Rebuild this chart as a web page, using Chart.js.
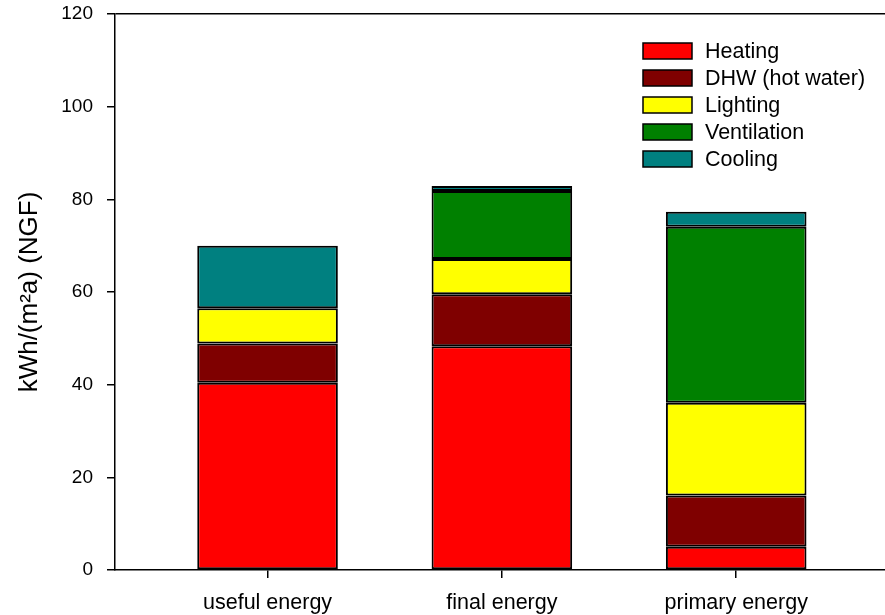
<!DOCTYPE html>
<html>
<head>
    <meta charset="utf-8">
    <script src="https://cdn.jsdelivr.net/npm/chart.js"></script>
    <style>
        body { margin: 0; background: #fff; }
        #wrap { width: 885px; height: 615px; }
    </style>
</head>
<body>
<div id="wrap"><canvas id="energyChart"></canvas></div>
<script>
// categories and their positions on the x axis
const categories = ['useful energy', 'final energy', 'primary energy']
const xPos = [1, 2, 3]

// stacked values, kWh/(m²a)
const heating = [40.4, 48.3, 5.0]
const dhw = [8.5, 11.2, 11.1]
const lighting = [7.6, 7.6, 20.0]
const ventilation = [null, 14.7, 38.0]
const cooling = [13.5, 1.1, 3.2]

const yTicks = [0, 20, 40, 60, 80, 100, 120]

const font = 'Arial, "Liberation Sans", sans-serif'

function pts(arr) {
    return arr.map((v, i) => ({ x: xPos[i], y: v }))
}

function ds(label, values, color) {
    return {
        label: label,
        data: pts(values),
        backgroundColor: color,
        borderColor: '#000',
        borderWidth: 2,
        borderSkipped: false,
        barPercentage: 0.6,
        categoryPercentage: 1
    }
}

// legend drawn inside the plot, top right
const insideLegend = {
    id: 'insideLegend',
    afterDraw(chart) {
        const ctx = chart.ctx
        ctx.save()
        ctx.font = '21.5px ' + font
        ctx.textBaseline = 'middle'
        chart.data.datasets.forEach((d, i) => {
            const y = 51 + i * 27
            ctx.fillStyle = d.backgroundColor
            ctx.fillRect(643, y - 8, 49, 16)
            ctx.strokeStyle = '#000'
            ctx.lineWidth = 1.5
            ctx.strokeRect(643, y - 8, 49, 16)
            ctx.fillStyle = '#000'
            ctx.fillText(d.label, 705, y + 1)
        })
        ctx.restore()
    }
}

new Chart(document.getElementById('energyChart'), {
    type: 'bar',
    data: {
        datasets: [
            ds('Heating', heating, '#ff0000'),
            ds('DHW (hot water)', dhw, '#7f0000'),
            ds('Lighting', lighting, '#ffff00'),
            ds('Ventilation', ventilation, '#008000'),
            ds('Cooling', cooling, '#008080')
        ]
    },
    options: {
        responsive: true,
        maintainAspectRatio: false,
        animation: false,
        layout: { padding: { top: 14, right: 0, left: 0, bottom: 0 } },
        plugins: {
            legend: { display: false },
            tooltip: { enabled: false }
        },
        scales: {
            x: {
                type: 'linear',
                stacked: true,
                offset: false,
                min: 0.349,
                max: 3.635,
                afterBuildTicks: (scale) => { scale.ticks = xPos.map(v => ({ value: v })) },
                afterFit: (scale) => {
                    scale.height = 45
                    scale.paddingLeft = 0
                    scale.paddingRight = 0
                },
                border: { display: true, color: '#000', width: 1.5 },
                grid: { offset: false, drawOnChartArea: false, color: '#000', tickLength: 8, lineWidth: 1.5 },
                ticks: {
                    color: '#000',
                    font: { family: font, size: 21.5 },
                    padding: 12,
                    maxRotation: 0,
                    autoSkip: false,
                    callback: (v) => categories[xPos.indexOf(v)]
                }
            },
            y: {
                stacked: true,
                min: 0,
                max: 120,
                afterBuildTicks: (scale) => { scale.ticks = yTicks.map(v => ({ value: v })) },
                afterFit: (scale) => {
                    scale.width = 115
                    scale.paddingTop = 0
                    scale.paddingBottom = 0
                },
                border: { display: true, color: '#000', width: 1.5 },
                grid: {
                    color: (c) => c.tick && c.tick.value === 120 ? '#000' : 'rgba(0,0,0,0)',
                    tickColor: '#000',
                    tickLength: 8,
                    lineWidth: 1.5
                },
                ticks: {
                    color: '#000',
                    font: { family: font, size: 19 },
                    padding: 14
                },
                title: {
                    display: true,
                    text: 'kWh/(m²a) (NGF)',
                    color: '#000',
                    font: { family: font, size: 26 },
                    padding: { top: 14, bottom: 0 }
                }
            }
        }
    },
    plugins: [insideLegend]
})
</script>
</body>
</html>
